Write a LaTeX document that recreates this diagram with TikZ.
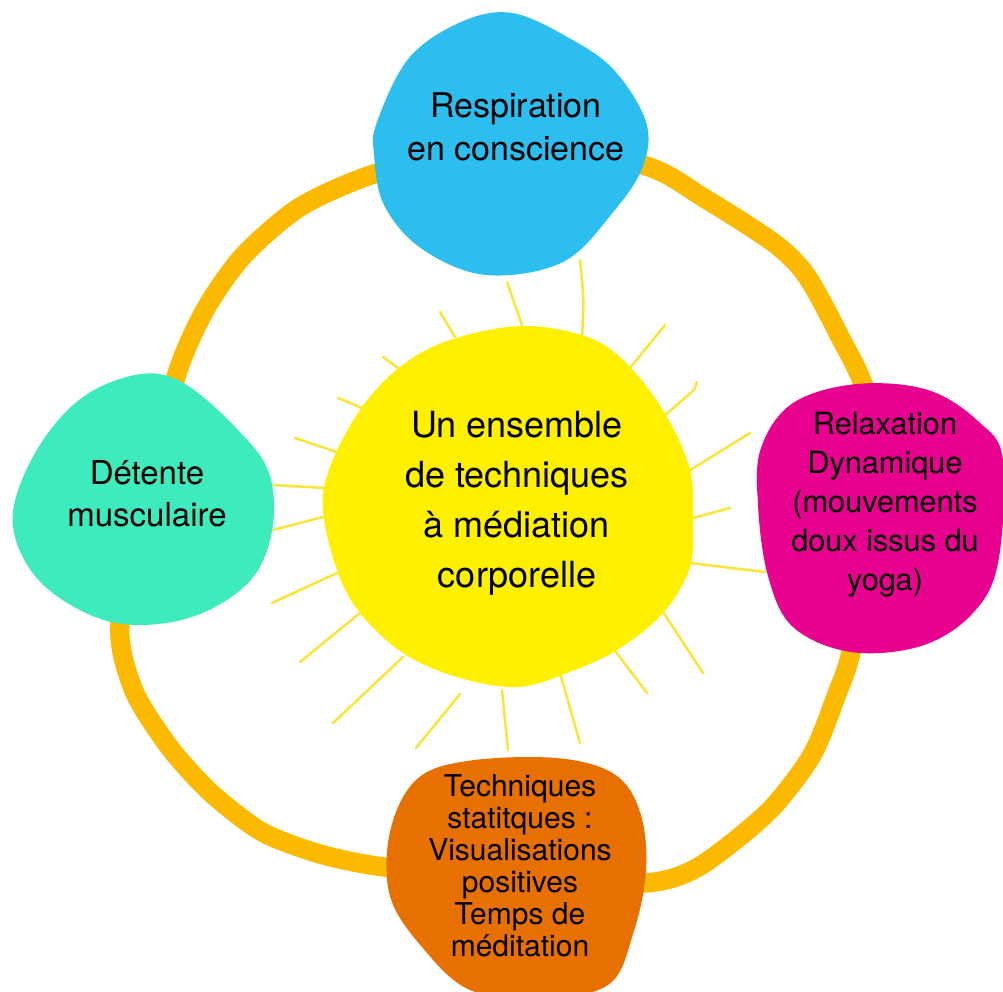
\documentclass[tikz,border=0pt]{standalone}
\usepackage{fontspec}
\setmainfont{TeX Gyre Heros}
\usepackage{tikz}

\definecolor{ringorange}{HTML}{FBBA00}
\definecolor{sunyellow}{HTML}{FFF000}
\definecolor{rayyellow}{HTML}{FAE53C}
\definecolor{breathblue}{HTML}{2DBEF0}
\definecolor{musclegreen}{HTML}{3EEBBE}
\definecolor{relaxpink}{HTML}{E8008F}
\definecolor{staticorange}{HTML}{E87000}

\tikzset{
  blob/.style={smooth cycle, tension=0.6},
  ray/.style={rayyellow, line width=1.9pt, line cap=round},
  label/.style={align=center, text=black, inner sep=0pt}
}

\begin{document}
\begin{tikzpicture}[x=0.75pt, y=-0.75pt]
    \useasboundingbox (0,0) rectangle (1003,992);

    % Ring behind the four blobs
    \draw[ringorange, line width=14.5pt, line join=round]
        plot[smooth cycle, tension=0.45] coordinates {(512,140) (377,173) (300,207)
        (243,256) (205,310) (176,377) (150,500) (120,624) (134,691) (170,748)
        (211,793) (262,832) (320,854) (384,867) (520,880) (646,883) (700,866)
        (768,812) (812,755) (838,691) (851,652) (878,520) (868,400) (838,333)
        (806,275) (774,243) (704,198) (646,166)};

    % Rays of the sun
    \foreach \ax/\ay/\bx/\by in {455/337/440/312, 522/325/507/282, 630/368/665/325,
        687/472/750/433, 693/518/730/508, 690/563/765/572, 663/612/703/673,
        613/648/647/693, 560/673/580/743, 502/690/508/750, 460/694/416/748,
        403/657/333/723, 360/613/300/662, 337/573/272/603, 323/517/273/530,
        325/488/273/485, 340/453/295/438, 367/410/338/398, 398/368/383/357}
        \draw[ray] (\ax,\ay) -- (\bx,\by);
    \draw[ray] (582,338) .. controls (584,300) .. (580,260);
    \draw[ray] (663,417) -- (694,390) -- (697,382);

    % Sun
    \fill[sunyellow] plot[blob] coordinates {(523,326) (590,338) (630,367) (667,417)
        (690,470) (693,517) (690,567) (663,613) (617,650) (567,673) (517,687)
        (457,677) (403,653) (360,613) (337,570) (323,510) (330,467) (360,410)
        (400,367) (450,340)};
    \node[label, font=\fontsize{27}{37.5}\selectfont] (sun) at (517,503)
        {Un ensemble\\de techniques\\à médiation\\corporelle};

    % Respiration
    \fill[breathblue] plot[blob] coordinates {(377,122) (409,58) (461,22) (512,13)
        (569,38) (614,70) (646,122) (643,166) (614,211) (563,262) (486,275)
        (422,249) (384,205) (374,154)};
    \node[label, font=\fontsize{25.5}{32}\selectfont] (breath) at (516,127)
        {Respiration\\en conscience};

    % Detente
    \fill[musclegreen] plot[blob] coordinates {(13,512) (38,448) (83,397) (141,374)
        (185,384) (237,429) (269,473) (272,531) (249,582) (192,617) (122,624)
        (64,601) (26,563)};
    \node[label, font=\fontsize{24.75}{31.5}\selectfont] (detente) at (147,494)
        {Détente\\musculaire};

    % Relaxation
    \fill[relaxpink] plot[blob] coordinates {(761,448) (793,403) (857,384) (928,390)
        (979,422) (1003,460) (998,563) (972,614) (921,646) (851,652) (793,627)
        (768,576) (758,505)};
    \node[label, font=\fontsize{23}{29.2}\selectfont] (relax) at (885,505)
        {Relaxation\\Dynamique\\(mouvements\\doux issus du\\yoga)};

    % Techniques statiques
    \fill[staticorange] plot[blob] coordinates {(390,832) (416,780) (467,761)
        (556,758) (614,774) (640,812) (646,870) (633,934) (608,985) (540,998)
        (470,990) (422,947) (390,896)};
    \node[label, font=\fontsize{22.5}{24}\selectfont] (statique) at (520,866)
        {Techniques\\statitques :\\Visualisations\\positives\\Temps de\\méditation};
\end{tikzpicture}
\end{document}
